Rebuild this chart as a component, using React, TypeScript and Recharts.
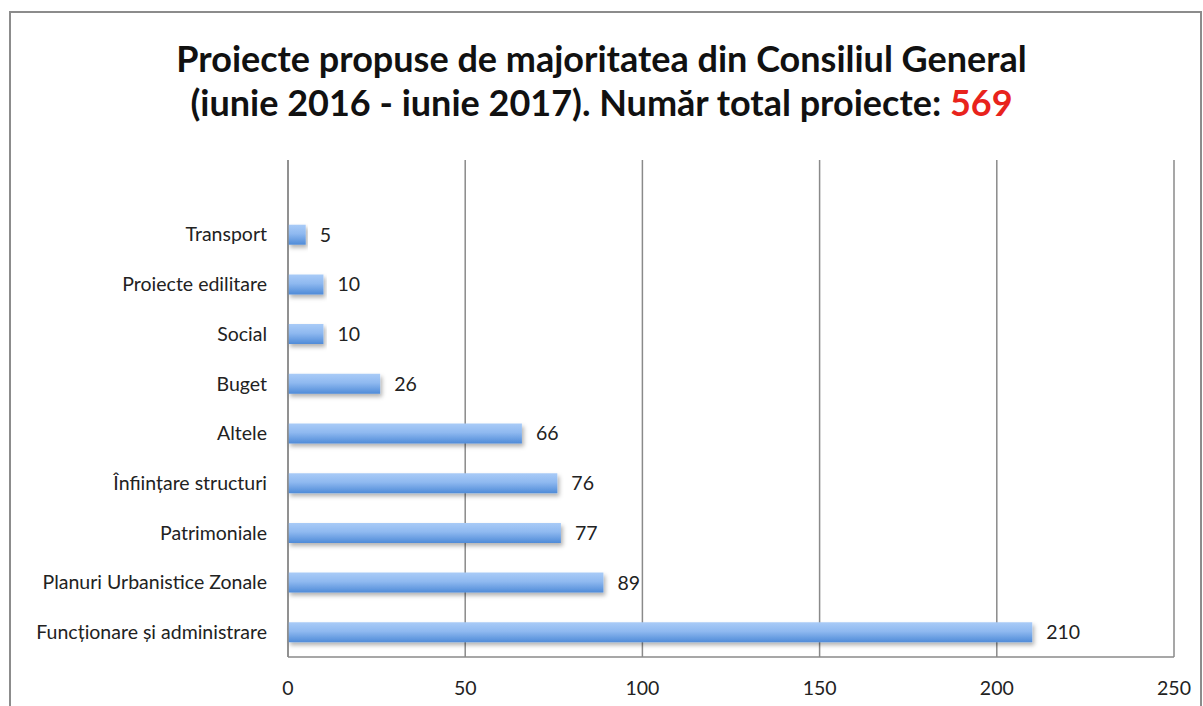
import React from 'react';
import { BarChart, Bar, XAxis, YAxis, CartesianGrid, LabelList } from 'recharts';

// categories listed top to bottom; the first one is the empty slot Excel leaves above the bars
const categories = [
  '',
  'Transport',
  'Proiecte edilitare',
  'Social',
  'Buget',
  'Altele',
  'Înființare structuri',
  'Patrimoniale',
  'Planuri Urbanistice Zonale',
  'Funcționare și administrare',
];
const values: (number | null)[] = [null, 5, 10, 10, 26, 66, 76, 77, 89, 210];
const xTicks = [0, 50, 100, 150, 200, 250];

const data = categories.map((name, i) => ({ name, value: values[i] }));

const FONT = 'Lato, "Open Sans", sans-serif';

const App: React.FC = () => {
  return (
    <div style={{ position: 'absolute', left: 0, top: 0, width: 1203, height: 706, overflow: 'hidden', background: '#fff', fontFamily: FONT }}>
      <div
        style={{
          position: 'absolute',
          left: 9,
          top: 11,
          width: 1189,
          height: 720,
          border: '2px solid #8c8c8c',
        }}
      />
      <div
        style={{
          position: 'absolute',
          left: 0,
          top: 36,
          width: 1203,
          textAlign: 'center',
          fontWeight: 700,
          fontSize: 36,
          lineHeight: '44px',
          color: '#111',
        }}
      >
        <div>Proiecte propuse de majoritatea din Consiliul General</div>
        <div>
          (iunie 2016 - iunie 2017). Număr total proiecte: <span style={{ color: '#e8231c' }}>569</span>
        </div>
      </div>
      <div style={{ position: 'absolute', left: 0, top: 0 }}>
        <BarChart
          width={1203}
          height={706}
          layout="vertical"
          data={data}
          margin={{ top: 160, right: 29, bottom: 0, left: 0 }}
          barCategoryGap={0}
        >
          <defs>
            <linearGradient id="barFill" x1="0" y1="0" x2="0" y2="1">
              <stop offset="0%" stopColor="#a9cbf7" />
              <stop offset="45%" stopColor="#8fb9f0" />
              <stop offset="100%" stopColor="#4f8bd8" />
            </linearGradient>
            <filter id="barShadow" x="-5%" y="-40%" width="115%" height="200%">
              <feDropShadow dx="2" dy="3" stdDeviation="2" floodColor="#000" floodOpacity="0.3" />
            </filter>
          </defs>
          <CartesianGrid horizontal={false} stroke="#8a8a8a" strokeWidth={1.5} />
          <XAxis
            type="number"
            domain={[0, 250]}
            ticks={xTicks}
            height={49}
            tickLine={false}
            axisLine={{ stroke: '#8a8a8a', strokeWidth: 1.5 }}
            tick={{ fill: '#222', fontSize: 19.5, fontFamily: FONT }}
            tickMargin={18}
            interval={0}
          />
          <YAxis
            type="category"
            dataKey="name"
            width={288}
            tickLine={false}
            axisLine={{ stroke: '#8a8a8a', strokeWidth: 1.5 }}
            tick={{ fill: '#222', fontSize: 19.5, fontFamily: FONT }}
            tickMargin={15}
            interval={0}
          />
          <Bar dataKey="value" barSize={20} fill="url(#barFill)" filter="url(#barShadow)" isAnimationActive={false}>
            <LabelList dataKey="value" position="right" offset={14} fill="#222" fontSize={19.5} fontFamily={FONT} />
          </Bar>
        </BarChart>
      </div>
    </div>
  );
};

export default App;
